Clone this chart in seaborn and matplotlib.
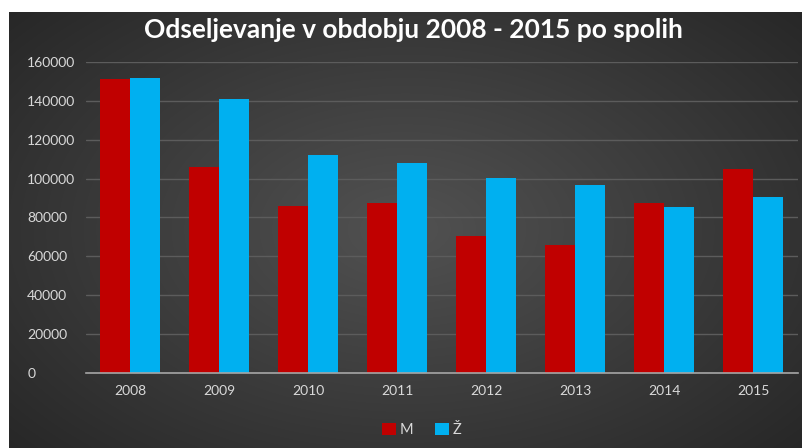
import numpy as np
import pandas as pd
import matplotlib.pyplot as plt
import seaborn as sns

sns.set_style("dark")
plt.rcParams['font.family'] = ['Lato', 'DejaVu Sans']

years = ["2008", "2009", "2010", "2011", "2012", "2013", "2014", "2015"]
moski = [151000, 105800, 85900, 87500, 70400, 65600, 87200, 104700]
zenske = [151600, 140800, 112300, 108200, 100100, 96500, 85500, 90300]
spoli = ["M", "Ž"]
barve = ["#C00000", "#00B0F0"]

data = pd.DataFrame({
    "leto": years * 2,
    "spol": [spoli[0]] * len(years) + [spoli[1]] * len(years),
    "vrednost": moski + zenske,
})

fig = plt.figure(figsize=(8.02, 4.48), dpi=100)
fig.patch.set_facecolor("white")

# dark radial gradient background
bg = fig.add_axes([9 / 802, 0, 793 / 802, 436 / 448])
yy, xx = np.mgrid[-1:1:300j, -1:1:500j]
r = np.sqrt((xx * 0.95) ** 2 + (yy * 0.85) ** 2)
shade = np.clip(0.32 - 0.13 * r, 0.14, 0.35)
bg.imshow(np.dstack([shade] * 3), aspect="auto", extent=[0, 1, 0, 1],
          interpolation="bicubic")
bg.set_axis_off()

ax = fig.add_axes([85.5 / 802, 1 - 372.7 / 448, 712 / 802, (372.7 - 62) / 448])
ax.patch.set_alpha(0)

sns.barplot(data=data, x="leto", y="vrednost", hue="spol", palette=barve,
            width=0.674, gap=0, saturation=1, linewidth=0, ax=ax)

ax.set_xlim(-0.5, 7.5)
ax.set_ylim(0, 160000)
ax.set_yticks(range(0, 160001, 20000))
ax.set_xlabel("")
ax.set_ylabel("")
ax.grid(axis="y", color="#5c5c5c", linewidth=1)
ax.grid(axis="x", visible=False)
ax.set_axisbelow(True)
for s in ["top", "right", "left"]:
    ax.spines[s].set_visible(False)
ax.spines["bottom"].set_color("#a6a6a6")
ax.spines["bottom"].set_linewidth(1.2)

ax.tick_params(axis="y", length=0, pad=42, labelsize=10, labelcolor="#d9d9d9")
ax.tick_params(axis="x", length=0, pad=9, labelsize=10, labelcolor="#d9d9d9")
for lab in ax.get_yticklabels():
    lab.set_horizontalalignment("left")

ax.legend(loc="center", bbox_to_anchor=(422 / 802, 1 - 430 / 448),
          bbox_transform=fig.transFigure, ncol=2, frameon=False,
          fontsize=10.5, labelcolor="#d9d9d9", handlelength=0.9, handleheight=0.9,
          handletextpad=0.3, columnspacing=1.5)

fig.text(413 / 802, 1 - 30 / 448, "Odseljevanje v obdobju 2008 - 2015 po spolih",
         ha="center", va="center", color="white", fontsize=19, fontweight="bold")

fig.savefig("out.png", dpi=100)
